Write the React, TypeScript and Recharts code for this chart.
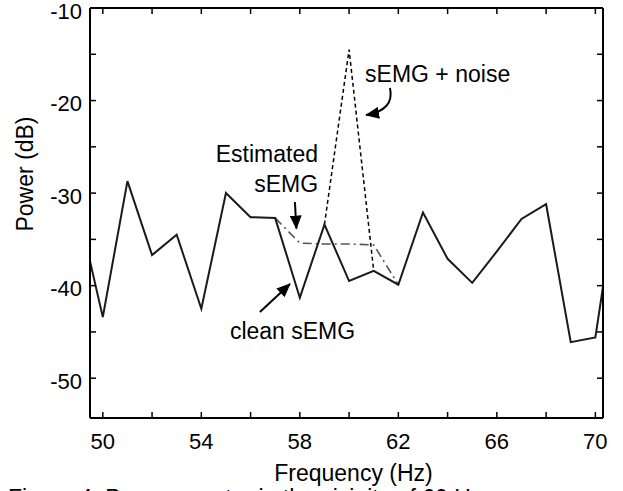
import React from 'react';
import { LineChart, Line, XAxis, YAxis } from 'recharts';

// frequency bins (Hz) and power (dB)
const freqHz = [49, 50, 51, 52, 53, 54, 55, 56, 57, 58, 59, 60, 61, 62, 63, 64, 65, 66, 67, 68, 69, 70, 71];
const cleanSemg = [-31.8, -43.4, -28.7, -36.7, -34.5, -42.5, -30.0, -32.6, -32.7, -41.3, -33.4, -39.5, -38.4, -39.9, -32.1, -37.1, -39.7, -36.3, -32.8, -31.2, -46.1, -45.6, -27.9];
const noisySemg = [null, null, null, null, null, null, null, null, null, null, -33.4, -14.5, -38.4, null, null, null, null, null, null, null, null, null, null];
const estimatedSemg = [null, null, null, null, null, null, null, null, -32.7, -35.4, -35.5, -35.5, -35.6, -39.9, null, null, null, null, null, null, null, null, null];

const xTicks = [50, 52, 54, 56, 58, 60, 62, 64, 66, 68, 70];
const xLabels = [50, 54, 58, 62, 66, 70];
const yTicks = [-50, -45, -40, -35, -30, -25, -20, -15, -10];
const yLabels = [-50, -40, -30, -20, -10];

const X_DOMAIN: [number, number] = [49.48, 70.31];
const Y_DOMAIN: [number, number] = [-54.3, -10];

const W = 623;
const H = 491;
const LEFT_W = 90;
const RIGHT_W = 20;
const TOP_H = 8;
const BOTTOM_H = 73;

const FONT = '"Liberation Sans", Arial, Helvetica, sans-serif';

const data = freqHz.map((f, i) => ({
  f,
  clean: cleanSemg[i],
  noisy: noisySemg[i],
  est: estimatedSemg[i],
}));

// map data units to pixels for the annotation overlay (same layout as the chart)
const plotW = W - LEFT_W - RIGHT_W;
const plotH = H - TOP_H - BOTTOM_H;
const px = (f: number) => LEFT_W + ((f - X_DOMAIN[0]) / (X_DOMAIN[1] - X_DOMAIN[0])) * plotW;
const py = (v: number) => TOP_H + ((Y_DOMAIN[1] - v) / (Y_DOMAIN[1] - Y_DOMAIN[0])) * plotH;

const axisLine = { stroke: '#000', strokeWidth: 2 };
const tickLine = { stroke: '#000', strokeWidth: 1.5 };
const tickFont = { fontSize: 22, fill: '#000', fontFamily: FONT };

const Annotations = () => {
  const noiseTip = [px(60.69), py(-21.56)];
  return (
    <svg width={W} height={H} style={{ position: 'absolute', left: 0, top: 0, pointerEvents: 'none' }}>
      <defs>
        <marker id="head" markerUnits="userSpaceOnUse" markerWidth="14" markerHeight="12" refX="13" refY="6" orient="auto">
          <path d="M0,0 L14,6 L0,12 Z" fill="#000" />
        </marker>
      </defs>
      <g fontFamily={FONT} fontSize={23} fill="#000">
        <text x={px(60.65)} y={py(-18.0)}>sEMG + noise</text>
        <text x={px(58.74)} y={py(-26.64)} textAnchor="end">Estimated</text>
        <text x={px(58.74)} y={py(-29.88)} textAnchor="end">sEMG</text>
        <text x={px(55.16)} y={py(-45.77)}>clean sEMG</text>
      </g>
      <line x1={px(57.8)} y1={py(-30.96)} x2={px(57.86)} y2={py(-33.83)} stroke="#000" strokeWidth={2} markerEnd="url(#head)" />
      <line x1={px(56.38)} y1={py(-42.85)} x2={px(57.6)} y2={py(-39.82)} stroke="#000" strokeWidth={2} markerEnd="url(#head)" />
      <path
        d={`M${px(61.66)},${py(-18.64)} Q${px(61.86)},${py(-21.02)} ${noiseTip[0]},${noiseTip[1]}`}
        fill="none"
        stroke="#000"
        strokeWidth={2}
        markerEnd="url(#head)"
      />
      <text x={8} y={506} fontFamily={FONT} fontSize={23} fill="#000">
        Figure 4.   Power spectra in the vicinity of 60 Hz
      </text>
    </svg>
  );
};

export default function App() {
  return (
    <div style={{ position: 'absolute', left: 0, top: 0, width: W, height: H, overflow: 'hidden', background: '#fff' }}>
      <LineChart width={W} height={H} data={data} margin={{ top: 0, right: 0, left: 0, bottom: 0 }}>
        <XAxis
          xAxisId="b"
          dataKey="f"
          type="number"
          domain={X_DOMAIN}
          allowDataOverflow
          ticks={xTicks}
          interval={0}
          tickFormatter={(v: number) => (xLabels.includes(v) ? String(v) : '')}
          height={BOTTOM_H}
          tickSize={-6}
          tickMargin={21}
          axisLine={axisLine}
          tickLine={tickLine}
          tick={tickFont}
        />
        <XAxis
          xAxisId="t"
          orientation="top"
          dataKey="f"
          type="number"
          domain={X_DOMAIN}
          allowDataOverflow
          ticks={xTicks}
          interval={0}
          tickFormatter={() => ''}
          height={TOP_H}
          tickSize={-6}
          axisLine={axisLine}
          tickLine={tickLine}
        />
        <YAxis
          yAxisId="l"
          type="number"
          domain={Y_DOMAIN}
          allowDataOverflow
          ticks={yTicks}
          interval={0}
          tickFormatter={(v: number) => (yLabels.includes(v) ? String(v) : '')}
          width={LEFT_W}
          tickSize={-6}
          tickMargin={14}
          axisLine={axisLine}
          tickLine={tickLine}
          tick={{ ...tickFont, dy: 3 }}
        />
        <YAxis
          yAxisId="r"
          orientation="right"
          type="number"
          domain={Y_DOMAIN}
          allowDataOverflow
          ticks={yTicks}
          interval={0}
          tickFormatter={() => ''}
          width={RIGHT_W}
          tickSize={-6}
          axisLine={axisLine}
          tickLine={tickLine}
        />
        <Line
          xAxisId="b"
          yAxisId="l"
          dataKey="est"
          stroke="#555"
          strokeWidth={1.6}
          strokeDasharray="9 4 2 4"
          dot={false}
          activeDot={false}
          isAnimationActive={false}
        />
        <Line
          xAxisId="b"
          yAxisId="l"
          dataKey="noisy"
          stroke="#000"
          strokeWidth={1.5}
          strokeDasharray="4 3"
          dot={false}
          activeDot={false}
          isAnimationActive={false}
        />
        <Line
          xAxisId="b"
          yAxisId="l"
          dataKey="clean"
          stroke="#1a1a1a"
          strokeWidth={2}
          dot={false}
          activeDot={false}
          isAnimationActive={false}
        />
      </LineChart>
      <Annotations />
      <svg width={W} height={H} style={{ position: 'absolute', left: 0, top: 0, pointerEvents: 'none' }}>
        <text
          x={25}
          y={TOP_H + plotH * 0.405}
          transform={`rotate(-90, 25, ${TOP_H + plotH * 0.405})`}
          textAnchor="middle"
          dominantBaseline="central"
          fontFamily={FONT}
          fontSize={23}
          fill="#000"
        >
          Power (dB)
        </text>
        <text x={LEFT_W + plotW / 2 + 7} y={481} textAnchor="middle" fontFamily={FONT} fontSize={23} fill="#000">
          Frequency (Hz)
        </text>
      </svg>
    </div>
  );
}
